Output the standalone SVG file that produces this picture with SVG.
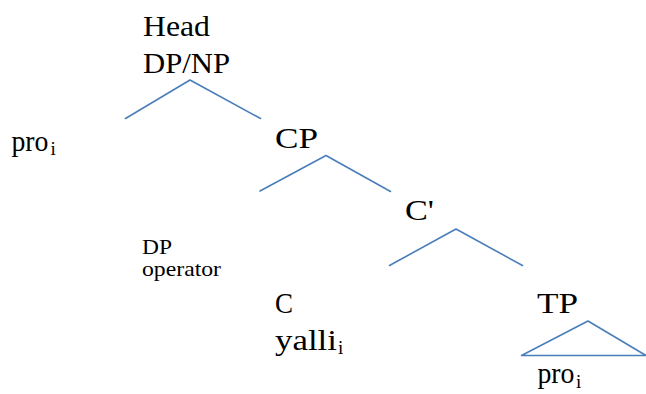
<svg xmlns="http://www.w3.org/2000/svg" width="646" height="394" viewBox="0 0 646 394">
<style>
.t{font-family:"Liberation Serif","Times New Roman",serif;font-size:29px;fill:#000}
.s{font-family:"Liberation Serif","Times New Roman",serif;font-size:21px;fill:#000}
.sub{font-family:"Liberation Serif","Times New Roman",serif;font-size:19px;fill:#000}
.e{stroke:#4a7ebb;stroke-width:1.6;fill:none;stroke-linecap:round;stroke-linejoin:round}
</style>
<rect width="646" height="394" fill="#fff"/>
<g id="connectors">
<polyline class="e" points="125.5,118.5 190,80 260.5,118.5"/>
<polyline class="e" points="260,191 326,155.5 390.5,191.5"/>
<polyline class="e" points="389.5,265.5 456,229 522.5,265.5"/>
<polygon class="e" points="521.5,355.5 588,321 646,355.5"/>
</g>
<g id="head"><text class="t" x="143" y="36" textLength="67" lengthAdjust="spacingAndGlyphs">Head</text><text class="t" x="143" y="73" textLength="87" lengthAdjust="spacingAndGlyphs">DP/NP</text></g>
<g id="pro1"><text class="t" x="11.5" y="150.5" textLength="37" lengthAdjust="spacingAndGlyphs">pro</text><text class="sub" x="50.5" y="155">i</text></g>
<g id="cp"><text class="t" x="275" y="148" textLength="43" lengthAdjust="spacingAndGlyphs">CP</text></g>
<g id="cbar"><text class="t" x="405" y="220" textLength="29" lengthAdjust="spacingAndGlyphs">C'</text></g>
<g id="dpop"><text class="s" x="142" y="254" textLength="30" lengthAdjust="spacingAndGlyphs">DP</text><text class="s" x="142" y="276" textLength="79" lengthAdjust="spacingAndGlyphs">operator</text></g>
<g id="c"><text class="t" x="275" y="313" textLength="18" lengthAdjust="spacingAndGlyphs">C</text><text class="t" x="275" y="349.5" textLength="62" lengthAdjust="spacingAndGlyphs">yalli</text><text class="sub" x="338" y="354">i</text></g>
<g id="tp"><text class="t" x="537" y="313" textLength="41" lengthAdjust="spacingAndGlyphs">TP</text></g>
<g id="pro2"><text class="t" x="537.5" y="383" textLength="37" lengthAdjust="spacingAndGlyphs">pro</text><text class="sub" x="576" y="387.5">i</text></g>
</svg>
